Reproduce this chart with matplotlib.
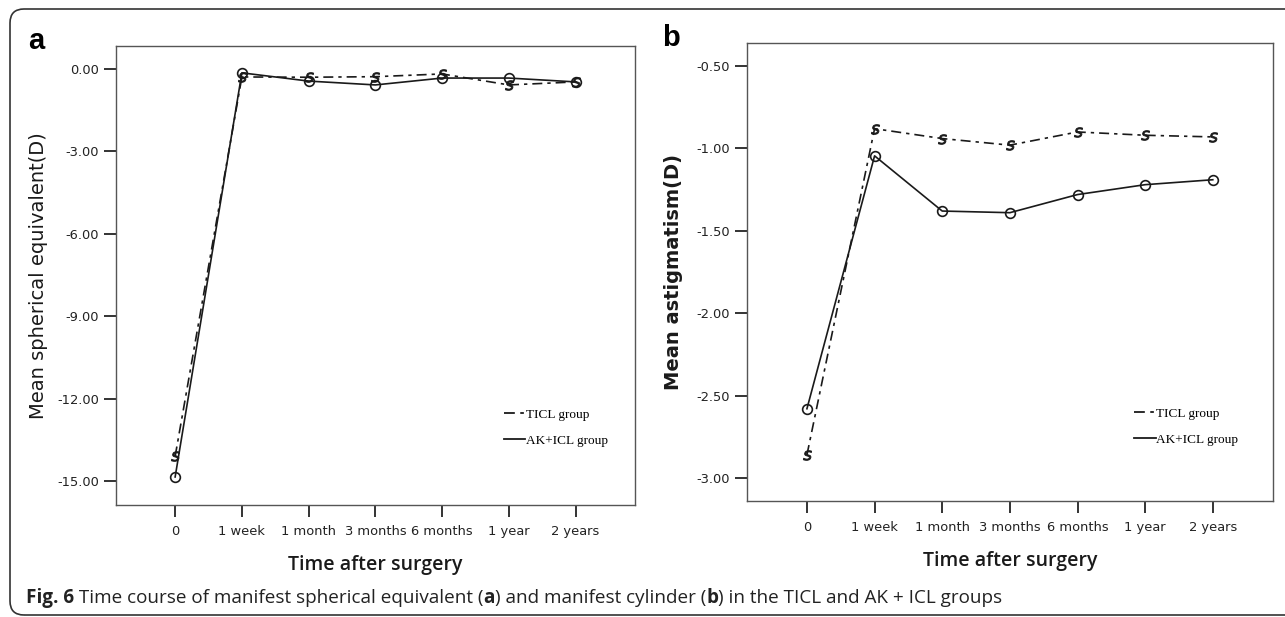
import matplotlib
matplotlib.use("Agg")
import matplotlib.pyplot as plt
import matplotlib.patches as patches
from matplotlib.transforms import IdentityTransform
import numpy as np

# time points after surgery
time_labels = ["0", "1 week", "1 month", "3 months", "6 months", "1 year", "2 years"]

# panel a: mean spherical equivalent (D)
se_ticl = [-14.10, -0.29, -0.30, -0.28, -0.18, -0.58, -0.47]
se_akicl = [-14.85, -0.14, -0.44, -0.58, -0.33, -0.33, -0.47]

# panel b: mean astigmatism (D)
ast_ticl = [-2.86, -0.88, -0.94, -0.98, -0.90, -0.92, -0.93]
ast_akicl = [-2.58, -1.045, -1.38, -1.39, -1.28, -1.22, -1.19]

W, H = 1285, 617
fig = plt.figure(figsize=(W / 100, H / 100), dpi=100, facecolor="white")

ink = "#1a1a1a"
x = np.arange(len(time_labels))


def draw_panel(rect, ticl, akicl, yticks, ylim, ylabel, ylabel_weight, ypad, leg_anchor):
    ax = fig.add_axes(rect)
    ax.plot(x, ticl, color=ink, lw=1.2, dashes=(6, 3, 2, 3),
            marker=r"$s$", ms=7, mew=0.6, label="TICL group")
    ax.plot(x, akicl, color=ink, lw=1.2, marker="o", ms=7, mfc="none",
            mec=ink, mew=1.2, label="AK+ICL group")
    ax.set_xlim(-0.886, 6.89)
    ax.set_ylim(*ylim)
    ax.set_xticks(x)
    ax.set_xticklabels(time_labels)
    ax.set_yticks(yticks)
    ax.set_yticklabels(["%.2f" % v for v in yticks])
    ax.tick_params(axis="both", direction="out", length=8.6, width=1.4,
                   color="#333333", labelsize=9.4, labelcolor="#222222")
    ax.tick_params(axis="y", pad=3.5)
    ax.tick_params(axis="x", pad=6)
    for s in ax.spines.values():
        s.set_color("#555555")
        s.set_linewidth(1.0)
    ax.set_ylabel(ylabel, fontsize=14, fontweight=ylabel_weight,
                  family="DejaVu Sans", color=ink, labelpad=ypad)
    ax.set_xlabel("Time after surgery", fontsize=14, family="Open Sans",
                  fontweight="semibold", color=ink, labelpad=12)
    leg = ax.legend(loc="upper left", bbox_to_anchor=leg_anchor,
                    frameon=False, handlelength=1.6, handletextpad=0.05,
                    labelspacing=1.05, borderpad=0,
                    prop={"family": "Liberation Serif", "size": 9.5})
    for h in leg.legend_handles:
        h.set_marker("")
        h.set_linewidth(1.3)
    return ax


ax_a = draw_panel([116 / W, 112 / H, 519 / W, 459 / H], se_ticl, se_akicl,
                  [0, -3, -6, -9, -12, -15], (-15.87, 0.837),
                  "Mean spherical equivalent(D)", "normal", 7, (0.735, 0.225))
ax_b = draw_panel([747 / W, 116 / H, 526 / W, 458 / H], ast_ticl, ast_akicl,
                  [-0.5, -1.0, -1.5, -2.0, -2.5, -3.0], (-3.14, -0.36),
                  "Mean astigmatism(D)", "bold", 10, (0.724, 0.218))

# panel letters
fig.text(28 / W, 1 - 41 / H, "a", fontsize=21, fontweight="bold",
         family="Liberation Sans", va="center", ha="left")
fig.text(662 / W, 1 - 38 / H, "b", fontsize=21, fontweight="bold",
         family="Liberation Sans", va="center", ha="left")

# rounded border around figure
border = patches.FancyBboxPatch((10, 2), 1290, 606,
                                boxstyle="round,pad=0,rounding_size=14",
                                transform=IdentityTransform(), fill=False,
                                edgecolor="#333333", linewidth=1.2, clip_on=False)
fig.add_artist(border)

# caption with mixed bold / regular parts
caption = [("Fig. 6", "bold"), (" Time course of manifest spherical equivalent (", "normal"),
           ("a", "bold"), (") and manifest cylinder (", "normal"), ("b", "bold"),
           (") in the TICL and AK + ICL groups", "normal")]
renderer = fig.canvas.get_renderer()
xpos = 26
for txt, wt in caption:
    t = fig.text(xpos / W, 1 - 598 / H, txt, fontsize=13.6, fontweight=wt,
                 family="Open Sans", va="center", ha="left", color="#222222")
    bb = t.get_window_extent(renderer)
    xpos += bb.width

fig.savefig("out.png", dpi=100)
